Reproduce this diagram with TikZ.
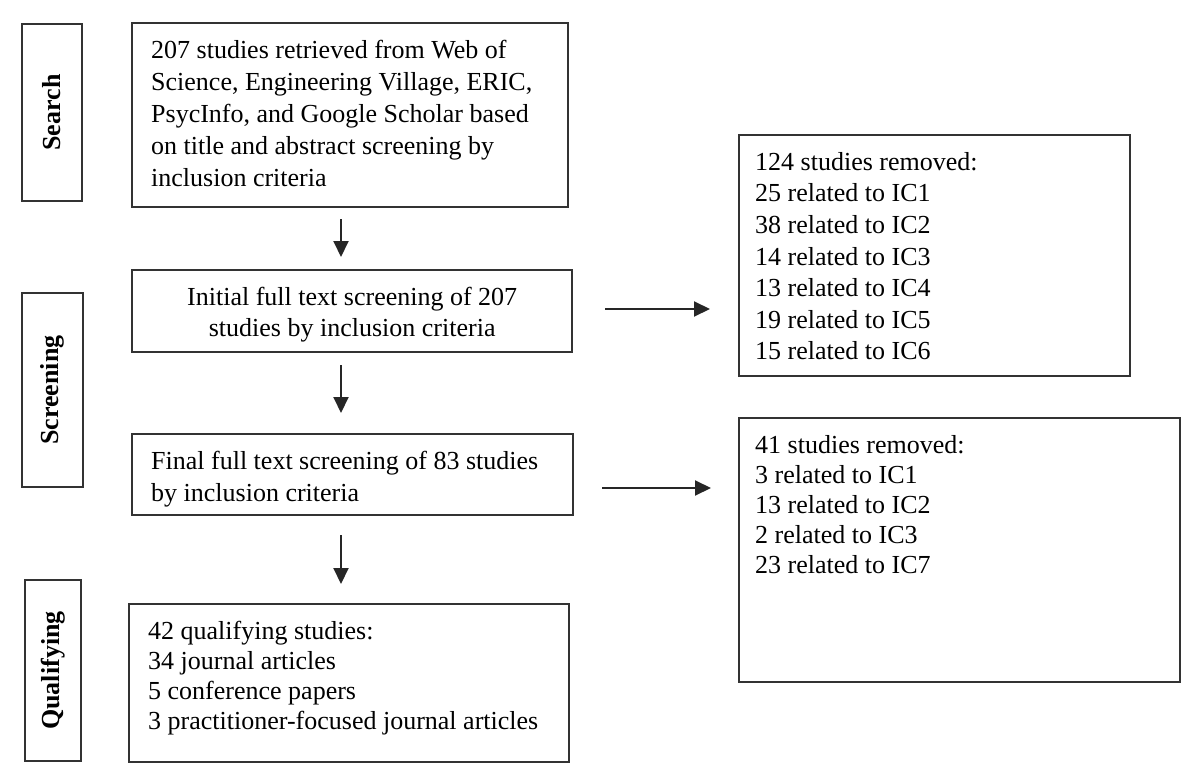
\documentclass[tikz,border=0pt]{standalone}
\usepackage{fontspec}
\setmainfont{Liberation Serif}
\usetikzlibrary{arrows.meta}
\newcommand\boxtxt[5]{%
  \hspace*{#3}\parbox[c][#2][t]{\dimexpr#1-#3\relax}{#4\rule{0pt}{17.5pt}#5}}
\begin{document}
\begin{tikzpicture}[x=0.5pt,y=-0.5pt,
  font=\fontsize{13pt}{15.5pt}\selectfont,
  every node/.style={text=black},
  flowbox/.style={draw=black!80, line width=1.2pt, inner sep=0pt, anchor=north west},
  stagebox/.style={draw=black!80, line width=1.2pt, inner sep=0pt, rotate=90,
    font=\fontsize{13pt}{15.5pt}\selectfont\bfseries},
  arr/.style={draw=black!85, line width=1pt, -{Triangle[length=8pt,width=7.5pt]}}]
\useasboundingbox (0,0) rectangle (1200,781);

% stage labels
\node[stagebox, minimum width=88.5pt, minimum height=30pt] (search) at (52,112.5) {Search};
\node[stagebox, minimum width=97pt, minimum height=30.5pt] (screen) at (52.5,390) {Screening};
\node[stagebox, minimum width=90.5pt, minimum height=28pt] (qual) at (53,670.5) {Qualifying};

% main flow
\node[flowbox] (s1) at (131,22) {\boxtxt{218pt}{92pt}{9.5pt}{\raggedright\setlength{\baselineskip}{16pt}}{207 studies retrieved from Web of\\Science, Engineering Village, ERIC,\\PsycInfo, and Google Scholar based\\on title and abstract screening by\\inclusion criteria}};
\node[flowbox] (s2) at (131,269) {\boxtxt{220pt}{41pt}{0pt}{\centering}{Initial full text screening of 207\\studies by inclusion criteria}};
\node[flowbox] (s3) at (131,433) {\boxtxt{220.5pt}{40.5pt}{9.5pt}{\raggedright\setlength{\baselineskip}{16pt}}{Final full text screening of 83 studies\\by inclusion criteria}};
\node[flowbox] (s4) at (128,603) {\boxtxt{220pt}{79pt}{9.5pt}{\raggedright\setlength{\baselineskip}{15pt}}{42 qualifying studies:\\34 journal articles\\5 conference papers\\3 practitioner-focused journal articles}};

% removed boxes
\node[flowbox] (r1) at (738,134) {\boxtxt{195.5pt}{120.5pt}{8pt}{\raggedright\setlength{\baselineskip}{15.8pt}}{124 studies removed:\\25 related to IC1\\38 related to IC2\\14 related to IC3\\13 related to IC4\\19 related to IC5\\15 related to IC6}};
\node[flowbox] (r2) at (738,417) {\boxtxt{220.5pt}{132pt}{8pt}{\raggedright\setlength{\baselineskip}{15pt}}{41 studies removed:\\3 related to IC1\\13 related to IC2\\2 related to IC3\\23 related to IC7}};

% connectors
\coordinate (ax) at (341,0);
\coordinate (ay1) at (0,309);
\coordinate (ay2) at (0,488);
\draw[arr, shorten <=5.5pt, shorten >=6pt] (s1.south -| ax) -- (s2.north -| ax);
\draw[arr, shorten <=6pt, shorten >=10pt] (s2.south -| ax) -- (s3.north -| ax);
\draw[arr, shorten <=9.5pt, shorten >=9.5pt] (s3.south -| ax) -- (s4.north -| ax);
\draw[arr, shorten <=16pt, shorten >=14pt] (s2.east |- ay1) -- (r1.west |- ay1);
\draw[arr, shorten <=14pt, shorten >=13.5pt] (s3.east |- ay2) -- (r2.west |- ay2);
\end{tikzpicture}
\end{document}
